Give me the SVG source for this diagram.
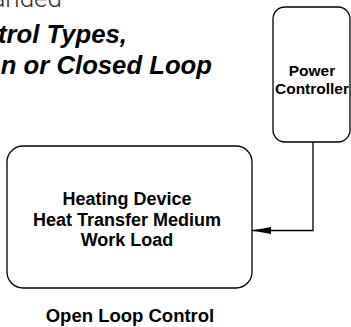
<svg xmlns="http://www.w3.org/2000/svg" width="351" height="327" viewBox="0 0 351 327">
<defs>
<style>
.box{fill:#fff;stroke:#000;stroke-width:1.3}
.lbl{font-family:"Liberation Sans",Arial,sans-serif;font-weight:bold;fill:#000;text-anchor:middle}
.title{font-family:"Liberation Sans",Arial,sans-serif;font-weight:bold;font-style:italic;font-size:25.7px;fill:#000;text-anchor:end}
.wire{fill:none;stroke:#000;stroke-width:1.3}
</style>
<marker id="arr" markerUnits="userSpaceOnUse" markerWidth="20" markerHeight="10" refX="19" refY="3.5" orient="auto">
<polygon points="0,0 19,3.5 0,7" fill="#000"/>
</marker>
</defs>
<rect width="351" height="327" fill="#fff"/>
<text x="62" y="7" font-family="Roboto,'Liberation Sans',sans-serif" font-weight="300" font-size="26" fill="#333" text-anchor="end">anded</text>
<text class="title" x="127" y="43">trol Types,</text>
<text class="title" x="212" y="74">n or Closed Loop</text>
<g id="power-controller">
<rect class="box" x="273" y="7" width="77" height="135" rx="12" ry="12"/>
<text class="lbl" x="312" y="76" font-size="15.5">Power</text>
<text class="lbl" x="312" y="94" font-size="15.5">Controller</text>
</g>
<g id="heating-device">
<rect class="box" x="7" y="146" width="245" height="142" rx="16" ry="16"/>
<text class="lbl" x="127" y="205" font-size="18">Heating Device</text>
<text class="lbl" x="127" y="226" font-size="18">Heat Transfer Medium</text>
<text class="lbl" x="127" y="246" font-size="18">Work Load</text>
</g>
<g id="connectors">
<polyline class="wire" points="313,142 313,230.5 252,230.5" marker-end="url(#arr)"/>
</g>
<text class="lbl" x="130" y="322" font-size="18.5">Open Loop Control</text>
</svg>
